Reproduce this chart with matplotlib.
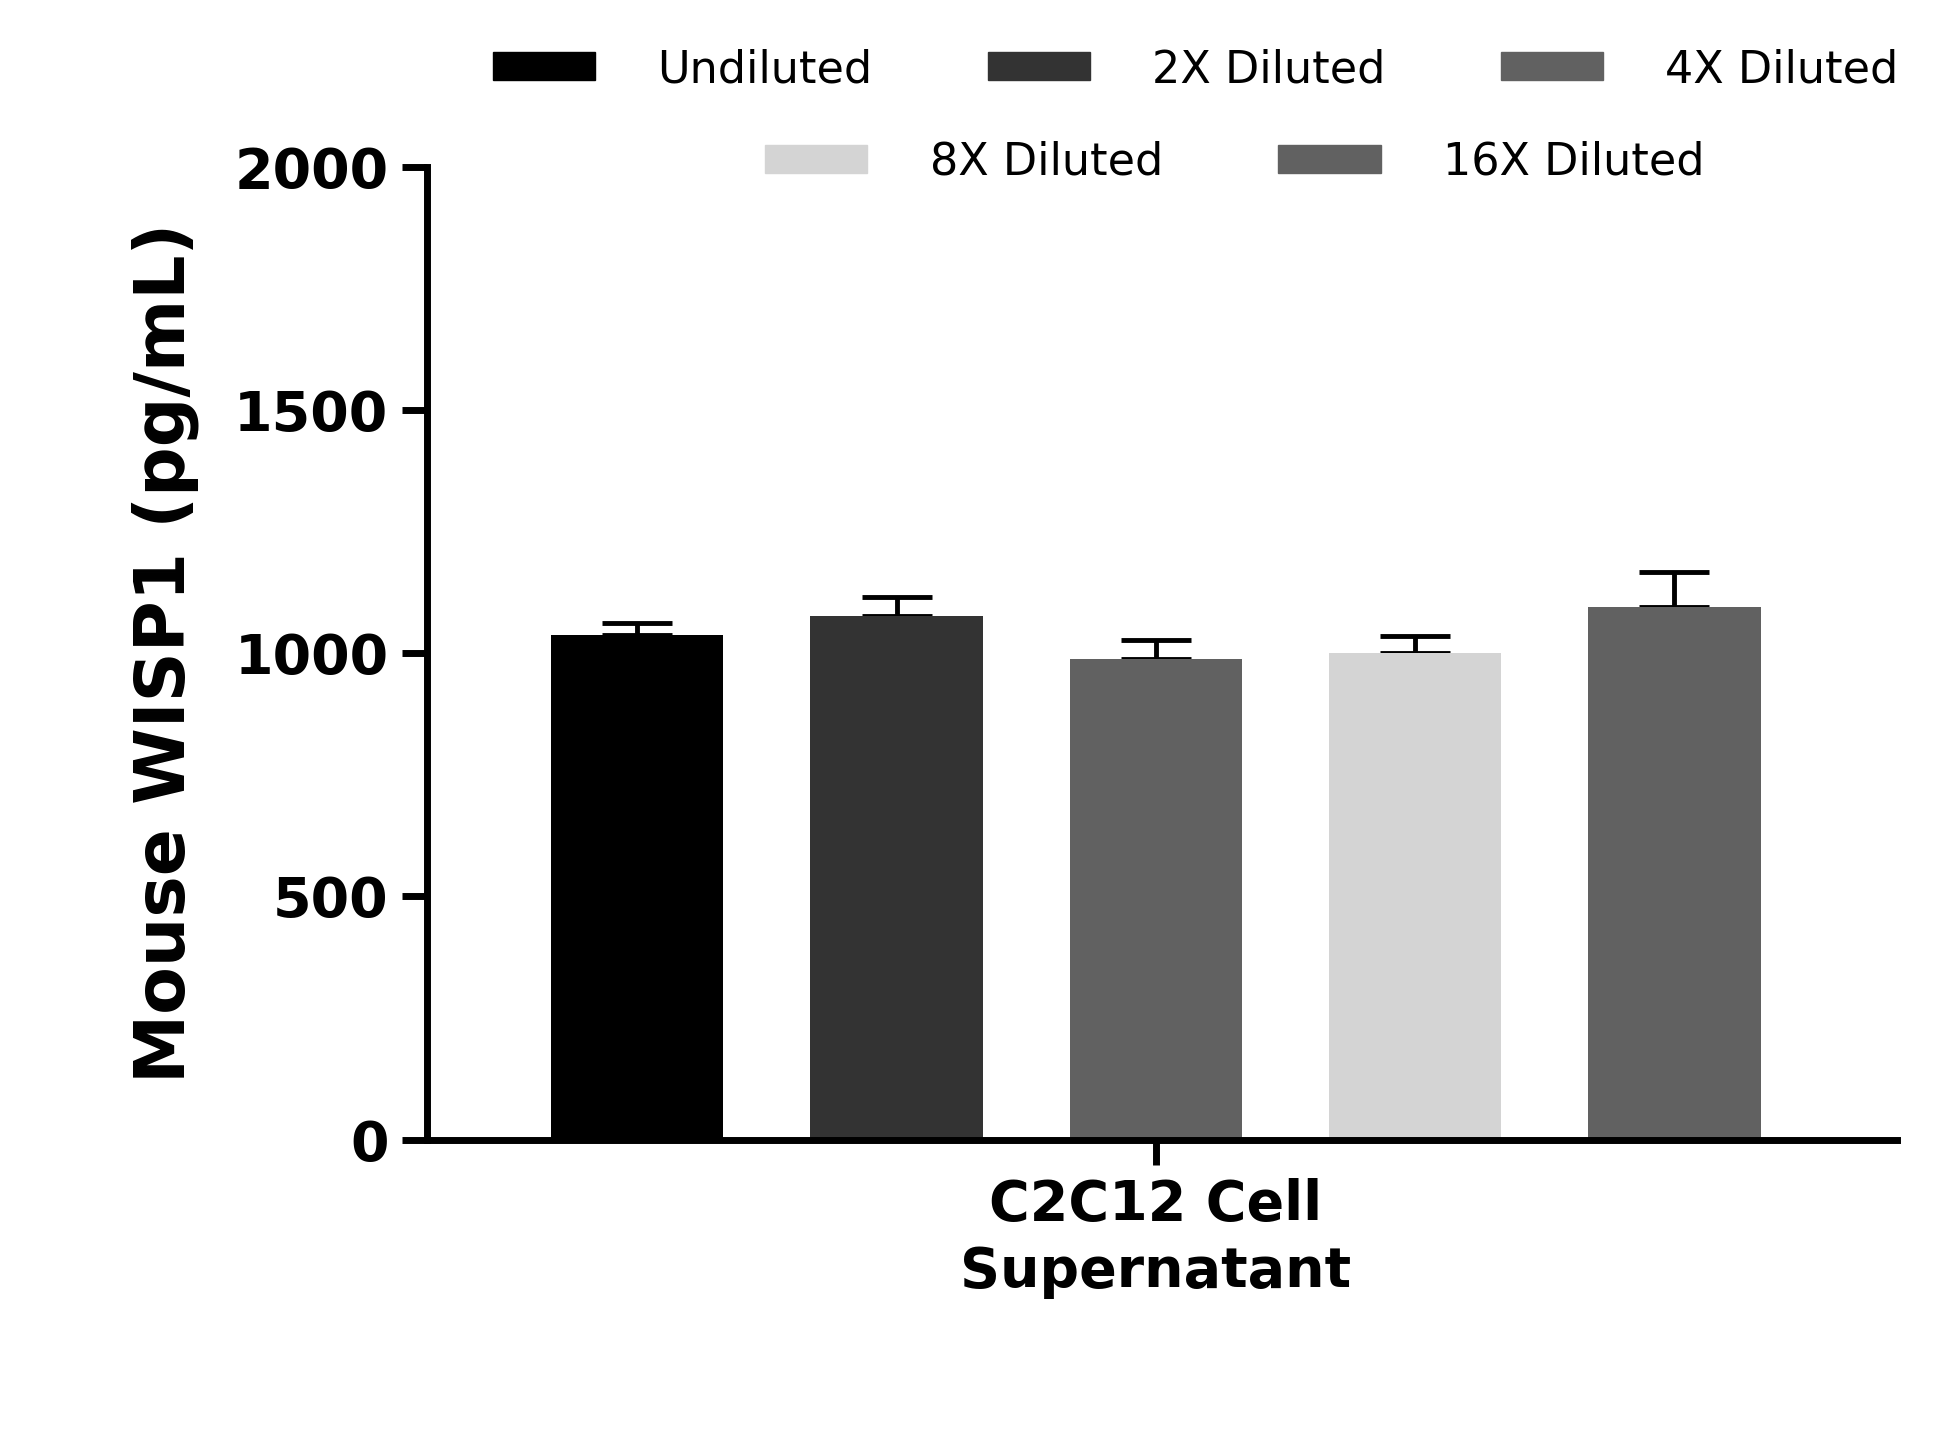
import matplotlib
matplotlib.use("Agg")
import matplotlib.pyplot as plt
from matplotlib.patches import Patch

labels = ["Undiluted", "2X Diluted", "4X Diluted", "8X Diluted", "16X Diluted"]
values = [1037, 1076, 988, 1000, 1094]
errors = [25, 40, 38, 36, 72]
colors = ["#000000", "#333333", "#616161", "#d4d4d4", "#616161"]
category = "C2C12 Cell\nSupernatant"

fig = plt.figure(figsize=(19.6, 14.48), dpi=100)
ax = fig.add_axes([0.218, 0.213, 0.75, 0.672])
x = list(range(len(values)))
ax.bar(x, values, width=0.665, color=colors, zorder=2)
ax.errorbar(x, values, yerr=[[0]*5, errors], fmt="none", ecolor="black",
            elinewidth=3.5, capsize=25, capthick=3.5, zorder=1)
ax.set_xlim(-0.81, 4.86)
ax.set_ylim(0, 2000)
ax.set_yticks([0, 500, 1000, 1500, 2000])
ax.set_xticks([2])
ax.set_xticklabels([category], fontsize=42, fontweight="bold", linespacing=1.3)
ax.set_ylabel("Mouse WISP1 (pg/mL)", fontsize=50, fontweight="bold", labelpad=25)
for s in ["top", "right"]:
    ax.spines[s].set_visible(False)
for s in ["left", "bottom"]:
    ax.spines[s].set_linewidth(5)
ax.tick_params(axis="both", width=5, length=18, labelsize=40, pad=10)
for t in ax.get_yticklabels():
    t.set_fontweight("bold")

h = [Patch(color=c) for c in colors]
kw = dict(frameon=False, fontsize=32, handlelength=2.3, handleheight=0.6,
          columnspacing=2.6, handletextpad=1.4)
fig.legend(h[:3], labels[:3], ncol=3, loc="center", bbox_to_anchor=(0.61, 0.952), **kw)
fig.legend(h[3:], labels[3:], ncol=2, loc="center", bbox_to_anchor=(0.63, 0.888), **kw)
fig.savefig("out.png", dpi=100)
